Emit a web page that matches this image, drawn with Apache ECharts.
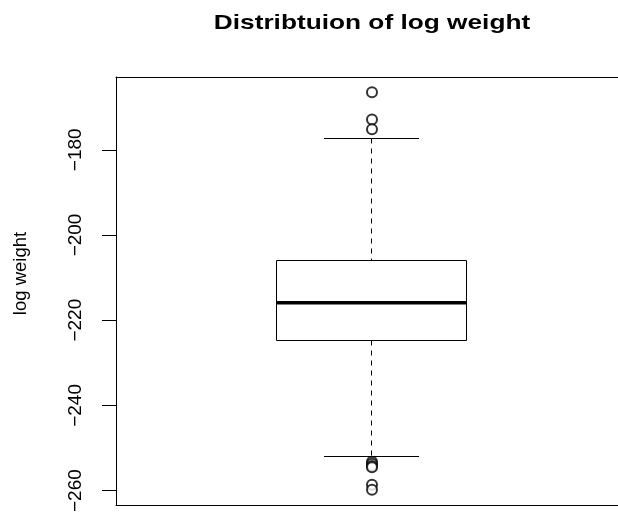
<!DOCTYPE html>
<html>
<head>
<meta charset="utf-8">
<script src="https://cdn.jsdelivr.net/npm/echarts@6/dist/echarts.min.js"></script>
<style>
  html, body { margin: 0; padding: 0; background: #fff; }
  #chart { width: 618px; height: 515px; }
</style>
</head>
<body>
<div id="chart"></div>
<script>
// Summary statistics of the log weight distribution
const groupPos = [0];
// [lower whisker, Q1, median, Q3, upper whisker]
const boxStats = [-252.0, -224.7, -215.9, -205.9, -177.3];
const upperOutliers = [-166.5, -172.9, -175.2];
const lowerOutliers = [-253.2, -253.7, -254.2, -254.5, -258.6, -259.8];
const yTicks = [-260, -240, -220, -200, -180];

const FONT = '"Liberation Sans", Arial, Helvetica, sans-serif';
const fmt = v => String(v).replace('-', '\u2212');
// snap 1px strokes onto pixel centres so they render crisp
const crisp = v => Math.round(v - 0.5) + 0.5;

const chart = echarts.init(document.getElementById('chart'), null, { renderer: 'canvas' });

const outlierData = upperOutliers.concat(lowerOutliers).map(v => [groupPos[0], v]);

const hiddenAxisParts = {
  axisTick: { show: false },
  axisLabel: { show: false },
  splitLine: { show: false }
};

chart.setOption({
  animation: false,
  backgroundColor: '#fff',
  graphic: [
    {
      type: 'text',
      x: 372, y: 23.5,
      scaleX: 1.25,
      style: {
        text: 'Distribtuion of log weight',
        x: 0, y: 0,
        align: 'center', verticalAlign: 'middle',
        font: 'bold 21px ' + FONT,
        fill: '#000'
      }
    },
    {
      type: 'text',
      x: 21, y: 273.5,
      rotation: Math.PI / 2,
      style: {
        text: 'log weight',
        x: 0, y: 0,
        align: 'center', verticalAlign: 'middle',
        font: '18.5px ' + FONT,
        fill: '#000'
      }
    }
  ],
  grid: { left: 116, top: 77, right: 0, bottom: 8, show: false },
  xAxis: [
    Object.assign({
      type: 'value', min: -1, max: 0.961, position: 'bottom',
      axisLine: { show: true, onZero: false, lineStyle: { color: '#000', width: 1 } }
    }, hiddenAxisParts),
    Object.assign({
      type: 'value', min: -1, max: 0.961, position: 'top',
      axisLine: { show: true, onZero: false, lineStyle: { color: '#000', width: 1 } }
    }, hiddenAxisParts)
  ],
  yAxis: {
    type: 'value',
    min: -263.51,
    max: -162.92,
    axisLine: { show: true, onZero: false, lineStyle: { color: '#000', width: 1 } },
    axisTick: { show: true, length: 14, inside: false, customValues: yTicks, lineStyle: { color: '#000', width: 1 } },
    axisLabel: {
      customValues: yTicks,
      rotate: 90,
      margin: 31,
      fontFamily: FONT, fontSize: 19, color: '#000',
      formatter: v => fmt(v)
    },
    splitLine: { show: false }
  },
  series: [
    {
      type: 'custom',
      data: [groupPos.concat(boxStats)],
      encode: { x: 0, y: [1, 2, 3, 4, 5] },
      clip: false,
      renderItem: function (params, api) {
        const x = api.value(0);
        const lo = api.coord([x, api.value(1)]);
        const q1 = api.coord([x, api.value(2)]);
        const md = api.coord([x, api.value(3)]);
        const q3 = api.coord([x, api.value(4)]);
        const hi = api.coord([x, api.value(5)]);
        const cx = crisp(lo[0]);
        const halfBox = 95;
        const halfCap = 47.5;
        const yLo = crisp(lo[1]), yQ1 = crisp(q1[1]), yQ3 = crisp(q3[1]), yHi = crisp(hi[1]);
        const solid = { stroke: '#000', lineWidth: 1, fill: null };
        const dashed = { stroke: '#000', lineWidth: 1, lineDash: [5, 5], fill: null };
        return {
          type: 'group',
          children: [
            { type: 'line', shape: { x1: cx, y1: yHi, x2: cx, y2: yQ3 }, style: dashed },
            { type: 'line', shape: { x1: cx, y1: yQ1, x2: cx, y2: yLo }, style: dashed },
            { type: 'line', shape: { x1: cx - halfCap, y1: yHi, x2: cx + halfCap, y2: yHi }, style: solid },
            { type: 'line', shape: { x1: cx - halfCap, y1: yLo, x2: cx + halfCap, y2: yLo }, style: solid },
            { type: 'rect', shape: { x: cx - halfBox, y: yQ3, width: halfBox * 2, height: yQ1 - yQ3 },
              style: { stroke: '#000', lineWidth: 1, fill: '#fff' } },
            { type: 'line', shape: { x1: cx - halfBox, y1: md[1], x2: cx + halfBox, y2: md[1] },
              style: { stroke: '#000', lineWidth: 3.5 } }
          ]
        };
      }
    },
    {
      type: 'scatter',
      data: outlierData,
      symbol: 'emptyCircle',
      symbolSize: 10,
      itemStyle: { color: '#000', borderColor: '#000', borderWidth: 1 },
      z: 3
    }
  ]
});
</script>
</body>
</html>
